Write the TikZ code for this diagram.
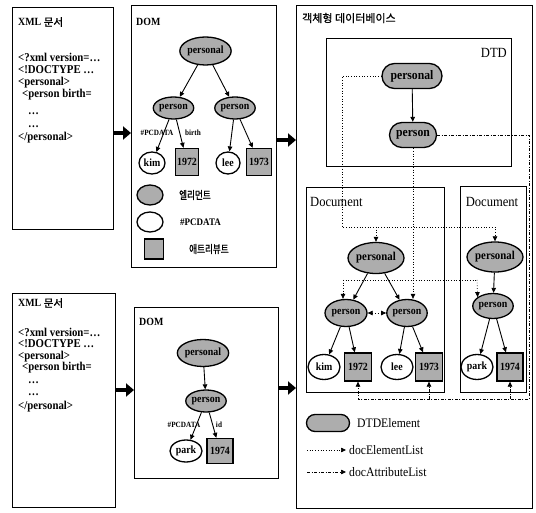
\documentclass[tikz,border=0pt]{standalone}
\usepackage{fontspec}
\setmainfont[FakeStretch=0.9]{Liberation Serif}
\newfontfamily\kr[FakeBold=1]{Noto Sans CJK KR}
\newfontfamily\krc[FakeStretch=0.78,FakeBold=1.2]{Noto Sans CJK KR}
\usetikzlibrary{arrows.meta,shapes.geometric,shapes.misc,calc}
\tikzset{
  frame/.style={draw, line width=0.9pt, inner sep=0pt, anchor=north west},
  elem/.style={ellipse, draw, line width=1.3pt, fill=black!32, inner sep=0pt},
  pcd/.style={ellipse, draw, line width=1.3pt, fill=white, inner sep=0pt},
  attr/.style={rectangle, draw, line width=1.3pt, fill=black!32, inner sep=0pt},
  dtdel/.style={rounded rectangle, draw, line width=1.3pt, fill=black!32, inner sep=0pt},
  fs/.style={font=\bfseries\fontsize{#1}{#1}\selectfont},
  fr/.style={font=\fontsize{#1}{#1}\selectfont},
  tip/.tip={Triangle[length=5pt,width=4.5pt]},
  arr/.style={-tip, line width=0.9pt},
  bigarr/.style={line width=4.5pt, -{Triangle[length=8pt,width=13pt]}},
  delist/.style={dotted, line width=0.7pt},
  delarr/.style={delist, -tip},
  attlist/.style={line width=0.7pt, dash pattern=on 3pt off 1.5pt on 1pt off 1.5pt},
  attarr/.style={attlist, -tip},
  code/.style={anchor=west, inner sep=0pt, fs=12},
  lbl/.style={inner sep=0pt, fs=8},
}
\begin{document}
\begin{tikzpicture}[x=1pt,y=-1pt]
\fill[white] (0,0) rectangle (536,513);
\useasboundingbox (0,0) rectangle (536,513);

% ---------- frames ----------
\node[frame, minimum width=101pt, minimum height=222pt] (xml1) at (12,7) {};
\node[frame, minimum width=145pt, minimum height=262pt] (dom1) at (131,5) {};
\node[frame, minimum width=103pt, minimum height=214pt] (xml2) at (12,293) {};
\node[frame, minimum width=144pt, minimum height=171pt] (dom2) at (134,307) {};
\node[frame, minimum width=236pt, minimum height=503pt] (db) at (296,5) {};
\node[frame, minimum width=185pt, minimum height=128pt] (dtd) at (326,38) {};
\node[frame, minimum width=138pt, minimum height=205pt] (docl) at (306,187) {};
\node[frame, minimum width=66pt, minimum height=206pt] (docr) at (460,186) {};

% ---------- big arrows ----------
\draw[bigarr] (xml1.east |- 0,133) -- (dom1.west |- 0,133);
\draw[bigarr] (dom1.east |- 0,140) -- (db.west |- 0,140);
\draw[bigarr] (xml2.east |- 0,390) -- (dom2.west |- 0,390);
\draw[bigarr] (dom2.east |- 0,388) -- (db.west |- 0,388);

% ---------- XML document 1 ----------
\node[code, fs=11] (x1t) at (18,22) {XML {\kr\mdseries\fontsize{10.5}{10.5}\selectfont 문서}};
\node[code] (x1a) at (18,57) {<?xml version=…};
\node[code] (x1b) at (18,70) {<!DOCTYPE …};
\node[code] (x1c) at (18,83) {<personal>};
\node[code] (x1d) at (22,95) {<person birth=};
\node[code] (x1e) at (28,114) {…};
\node[code] (x1f) at (28,127) {…};
\node[code] (x1g) at (18,138) {</personal>};

% ---------- XML document 2 ----------
\node[code, fs=11] (x2t) at (18,303) {XML {\kr\mdseries\fontsize{10.5}{10.5}\selectfont 문서}};
\node[code] (x2a) at (18,332) {<?xml version=…};
\node[code] (x2b) at (18,344) {<!DOCTYPE …};
\node[code] (x2c) at (18,357) {<personal>};
\node[code] (x2d) at (22,368) {<person birth=};
\node[code] (x2e) at (28,383) {…};
\node[code] (x2f) at (28,395) {…};
\node[code] (x2g) at (18,407) {</personal>};

% ---------- DOM 1 ----------
\node[anchor=west, inner sep=0pt, fs=11] (d1t) at (136,22) {DOM};
\node[elem, fs=11, minimum width=51pt, minimum height=28pt] (d1r) at (205.5,51) {personal};
\node[elem, fs=11, minimum width=38pt, minimum height=22pt] (d1pL) at (173.5,108) {person};
\node[elem, fs=11, minimum width=40pt, minimum height=22pt] (d1pR) at (235,108) {person};
\node[pcd, fs=11, minimum width=26pt, minimum height=22pt] (d1kim) at (152,163) {kim};
\node[attr, fs=11, minimum width=23pt, minimum height=27pt] (d1y72) at (187,162) {1972};
\node[pcd, fs=11, minimum width=24pt, minimum height=22pt] (d1lee) at (228,163) {lee};
\node[attr, fs=11, minimum width=25pt, minimum height=27pt] (d1y73) at (259,162) {1973};
\draw[arr] (d1r) -- (d1pL);
\draw[arr] (d1r) -- (d1pR);
\draw[arr] (d1pL) -- (d1kim);
\draw[arr] (d1pL) -- (d1y72);
\draw[arr] (d1pR) -- (d1lee);
\draw[arr] (d1pR) -- (d1y73);
\node[lbl] (d1l1) at (157,133) {\#PCDATA};
\node[lbl] (d1l2) at (193,133) {birth};
% legend
\node[elem, minimum width=26pt, minimum height=20pt] (lg1) at (150,195) {};
\node[anchor=west, inner sep=0pt, font=\krc\fontsize{11}{11}\selectfont] (lg1t) at (179,195) {엘리먼트};
\node[pcd, minimum width=26pt, minimum height=20pt] (lg2) at (150,222) {};
\node[anchor=west, inner sep=0pt, fs=10] (lg2t) at (180,222) {\#PCDATA};
\node[attr, minimum width=19pt, minimum height=20pt] (lg3) at (154,249) {};
\node[anchor=west, inner sep=0pt, font=\krc\fontsize{11}{11}\selectfont] (lg3t) at (189,249) {애트리뷰트};

% ---------- DOM 2 ----------
\node[anchor=west, inner sep=0pt, fs=11] (d2t) at (139,322) {DOM};
\node[elem, fs=11, minimum width=45pt, minimum height=27pt] (d2r) at (203,353) {personal};
\node[elem, fs=11, minimum width=40pt, minimum height=22pt] (d2p) at (206,401) {person};
\node[pcd, fs=11, minimum width=32pt, minimum height=22pt] (d2park) at (186,451) {park};
\node[attr, fs=11, minimum width=26pt, minimum height=25pt] (d2y74) at (220,451) {1974};
\draw[arr] (d2r) -- (d2p);
\draw[arr] (d2p) -- (d2park);
\draw[arr] (d2p) -- (d2y74);
\node[lbl] (d2l1) at (184,425) {\#PCDATA};
\node[lbl] (d2l2) at (219,425) {id};

% ---------- Object database ----------
\node[anchor=west, inner sep=0pt, font=\kr\fontsize{11}{11}\selectfont] (dbt) at (302,18) {객체형 데이터베이스};
\node[anchor=east, inner sep=0pt, fr=14] (dtdt) at (507,53) {DTD};
\node[dtdel, fs=13, minimum width=60pt, minimum height=25pt] (tp) at (412,76) {personal};
\node[dtdel, fs=13, minimum width=47pt, minimum height=25pt] (tq) at (413,135) {person};
\draw[arr] (tp) -- (tq);

% left document
\node[anchor=west, inner sep=0pt, fr=14] (dlt) at (310,202) {Document};
\node[elem, fs=12, minimum width=52pt, minimum height=31pt] (lr) at (376,258) {personal};
\node[elem, fs=11, minimum width=42pt, minimum height=27pt] (lpL) at (346,313) {person};
\node[elem, fs=11, minimum width=40pt, minimum height=27pt] (lpR) at (407,313) {person};
\node[pcd, fs=11, minimum width=32pt, minimum height=25pt] (lkim) at (324,367) {kim};
\node[attr, fs=11, minimum width=27pt, minimum height=28pt] (l72) at (358,367) {1972};
\node[pcd, fs=11, minimum width=32pt, minimum height=25pt] (llee) at (397,367) {lee};
\node[attr, fs=11, minimum width=27pt, minimum height=28pt] (l73) at (429,367) {1973};
\draw[arr] (lr) -- (lpL);
\draw[arr] (lr) -- (lpR);
\draw[arr] (lpL) -- (lkim);
\draw[arr] (lpL) -- (l72);
\draw[arr] (lpR) -- (llee);
\draw[arr] (lpR) -- (l73);

% right document
\node[inner sep=0pt, fr=14] (drt) at (492,202) {Document};
\node[elem, fs=12, minimum width=50pt, minimum height=30pt] (rr) at (495,257) {personal};
\node[elem, fs=11, minimum width=37pt, minimum height=25pt] (rp) at (493,306) {person};
\node[pcd, fs=11, minimum width=32pt, minimum height=25pt] (rpark) at (477,367) {park};
\node[attr, fs=11, minimum width=26pt, minimum height=28pt] (r74) at (510,367) {1974};
\draw[arr] (rr) -- (rp);
\draw[arr] (rp) -- (rpark);
\draw[arr] (rp) -- (r74);

% docElementList links
\coordinate (eA) at (342,76);
\coordinate (eB) at (342,227);
\coordinate (eC) at (495,227);
\draw[delarr] (tp.west) -- (eA) -- (eB) -- (eC) -- (rr.north);
\draw[delarr] (lr.north |- eB) -- (lr.north);
\coordinate (eD) at (343,280);
\coordinate (eE) at (477,280);
\draw[delarr] (tq.south) -- (tq.south |- lpR.north);
\draw[delist] (eD) -- (eE);
\draw[delarr] (eD) -- (eD |- lpL.north);
\draw[delarr] (eE) -- (rp.150);
\draw[delist, tip-tip] (lpL) -- (lpR);

% docAttributeList links
\coordinate (aA) at (529,135);
\coordinate (aB) at (529,399);
\draw[attarr] (tq.east) -- (aA) -- (aB) -- (l72.south |- aB) -- (l72.south);
\draw[attarr] (l73.south |- aB) -- (l73.south);
\draw[attarr] (r74.south |- aB) -- (r74.south);

% legend
\node[dtdel, minimum width=43pt, minimum height=17pt] (le) at (328,423) {};
\node[anchor=west, inner sep=0pt, fr=13] (let) at (357,423) {DTDElement};
\coordinate (lgA) at (307,450);
\coordinate (lgB) at (346,450);
\draw[delarr] (lgA) -- (lgB);
\node[anchor=west, inner sep=0pt, fr=13] (lgBt) at (349,450) {docElementList};
\coordinate (lgC) at (307,472);
\coordinate (lgD) at (346,472);
\draw[attarr] (lgC) -- (lgD);
\node[anchor=west, inner sep=0pt, fr=13] (lgDt) at (349,472) {docAttributeList};
\end{tikzpicture}
\end{document}
